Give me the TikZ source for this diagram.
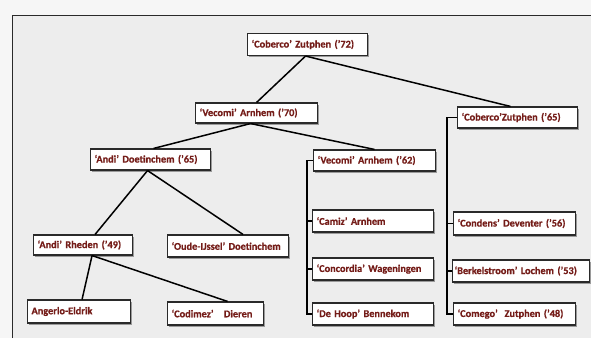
\documentclass[tikz,border=0pt]{standalone}
\usepackage{fontspec}
\setmainfont{Carlito}
\newfontfamily\boxfont[FakeBold=0.6]{Carlito Bold}
\usetikzlibrary{shadows}
\definecolor{boxc}{HTML}{2A2A2A}
\definecolor{txtc}{HTML}{741C18}
\definecolor{pagebg}{HTML}{EDEDED}
\definecolor{outbg}{HTML}{F6F6F6}
\tikzset{
  orgbox/.style={draw=boxc, fill=white, line width=1.1pt, text=txtc,
    font=\boxfont\fontsize{10.3}{11}\selectfont, inner xsep=4pt, inner ysep=0pt,
    anchor=west, align=left, text width=#1-8pt,
    drop shadow={shadow xshift=1.6pt, shadow yshift=-1.6pt, fill=black, opacity=0.35}},
  link/.style={draw=black, line width=1.5pt},
  frame/.style={draw=boxc, line width=0.8pt}
}
\begin{document}
\begin{tikzpicture}[x=1pt,y=-1pt]
\fill[outbg] (0,0) rectangle (591,338);
\fill[pagebg] (12,15) rectangle (591,338);
\useasboundingbox (0,0) rectangle (591,338);
\coordinate (fa) at (12,338);
\coordinate (fb) at (12,15);
\coordinate (fc) at (591,15);
\draw[frame] (fa) -- (fb) -- (fc);

\node[orgbox=120pt, minimum height=22pt] (c72) at (247,44.5) {\mbox{‘Coberco’ Zutphen (’72)}};
\node[orgbox=122pt, minimum height=20pt] (v70) at (195,113) {\mbox{‘Vecomi’ Arnhem (’70)}};
\node[orgbox=120pt, minimum height=21pt] (a65) at (90,159.5) {\mbox{‘Andi’ Doetinchem (’65)}};
\node[orgbox=120pt, minimum height=21pt] (c65) at (457,117.5) {\mbox{‘Coberco’Zutphen (’65)}};
\node[orgbox=122pt, minimum height=21pt] (v62) at (313,160.5) {\mbox{‘Vecomi’ Arnhem (’62)}};
\node[orgbox=121pt, minimum height=22pt] (camiz) at (312,221) {\mbox{‘Camiz’ Arnhem}};
\node[orgbox=121pt, minimum height=22pt] (conc) at (312,269) {\mbox{‘Concordia’ Wageningen}};
\node[orgbox=121pt, minimum height=22pt] (hoop) at (312,314) {\mbox{‘De Hoop’ Bennekom}};
\node[orgbox=122pt, minimum height=23pt] (cond) at (453,223.5) {\mbox{‘Condens’ Deventer (’56)}};
\node[orgbox=137pt, minimum height=22pt, inner xsep=2pt, text width=133pt] (berk) at (452,271) {\mbox{‘Berkelstroom’ Lochem (’53)}};
\node[orgbox=122pt, minimum height=22pt] (comego) at (453,314) {\mbox{‘Comego’~ Zutphen (’48)}};
\node[orgbox=99pt, minimum height=20pt] (rheden) at (33,245) {\mbox{‘Andi’ Rheden (’49)}};
\node[orgbox=121pt, minimum height=22pt] (oude) at (167,246) {\mbox{‘Oude-IJssel’ Doetinchem}};
\node[orgbox=103pt, minimum height=23pt] (angerlo) at (27,311.5) {\mbox{Angerlo-Eldrik}};
\node[orgbox=96pt, minimum height=23pt] (codimez) at (167,313.5) {\mbox{‘Codimez’~~ Dieren}};

\draw[link] ([xshift=-2pt]c72.south) -- (v70.north);
\draw[link] ([xshift=-2pt]c72.south) -- ([xshift=-7pt]c65.north);
\draw[link] ([xshift=-6pt]v70.south) -- ([xshift=3pt]a65.north);
\draw[link] ([xshift=-6pt]v70.south) -- (v62.north);
\draw[link] ([xshift=-3pt]a65.south) -- ([xshift=12pt]rheden.north);
\draw[link] ([xshift=-3pt]a65.south) -- ([xshift=15pt]oude.north);
\draw[link] ([xshift=9pt]rheden.south) -- ([xshift=3pt]angerlo.north);
\draw[link] ([xshift=9pt]rheden.south) -- ([xshift=12pt]codimez.north);

\coordinate (bx1) at (307,0);
\coordinate (bx2) at (447,0);
\draw[link] (v62.west) -- (v62.west -| bx1) -- (hoop.west -| bx1) -- (hoop.west);
\draw[link] (camiz.west) -- (camiz.west -| bx1);
\draw[link] (conc.west) -- (conc.west -| bx1);
\draw[link] (c65.west) -- (c65.west -| bx2) -- (comego.west -| bx2) -- (comego.west);
\draw[link] (cond.west) -- (cond.west -| bx2);
\draw[link] (berk.west) -- (berk.west -| bx2);
\end{tikzpicture}
\end{document}
